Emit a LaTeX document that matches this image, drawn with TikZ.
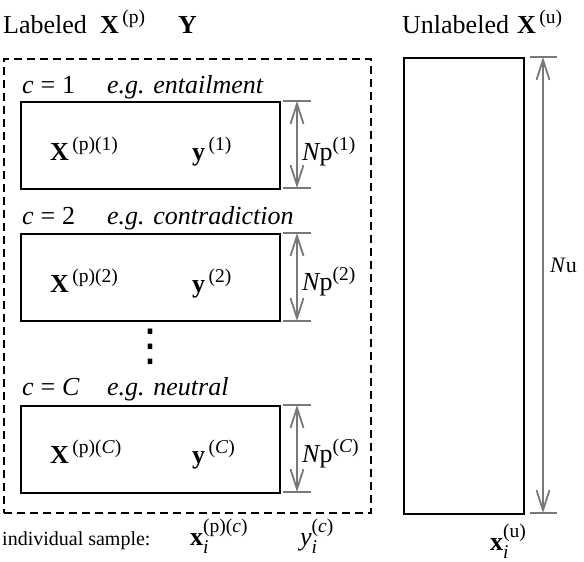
\documentclass[tikz,border=0pt]{standalone}
\usepackage{amsmath}
\usepackage{fontspec}
\setmainfont{Liberation Serif}
\newfontfamily\dvfont{DejaVu Sans}
\DeclareMathSizes{26}{26}{19.5}{14}
\DeclareMathSizes{22}{22}{16.5}{12}
\usetikzlibrary{arrows.meta}
\definecolor{dimgray}{RGB}{120,120,120}
\newcommand{\bt}[1]{\text{\bfseries #1}}
\newcommand{\itx}[1]{\text{\itshape #1}}
\newcommand{\rt}[1]{\text{\normalfont #1}}
\begin{document}
\begin{tikzpicture}[x=1pt,y=-1pt,
  box/.style={draw=black, line width=1.8pt, minimum width=259pt, minimum height=87pt, inner sep=0pt, anchor=north west},
  groupbox/.style={draw=black, line width=1.9pt, dash pattern=on 8pt off 5pt, inner sep=0pt, anchor=north west},
  ubox/.style={draw=black, line width=1.8pt, minimum width=120pt, minimum height=456pt, inner sep=0pt, anchor=north west},
  tick/.style={draw=dimgray, line width=1.8pt},
  dimarrow/.style={draw=dimgray, line width=1.8pt, {Straight Barb[length=20pt,width=13pt]}-{Straight Barb[length=20pt,width=13pt]}},
  txt/.style={inner sep=0pt, anchor=base west, font=\fontsize{26}{30}\selectfont},
  mid/.style={inner sep=0pt, anchor=base west, font=\fontsize{22}{26}\selectfont},
  small/.style={inner sep=0pt, anchor=base west, font=\fontsize{20}{24}\selectfont},
]
\useasboundingbox (0,0) rectangle (584,562);

% containers
\node[groupbox, minimum width=367pt, minimum height=454pt] (group) at (3,58) {};
\node[box] (b1) at (20,101) {};
\node[box] (b2) at (20,233) {};
\node[box] (b3) at (20,405) {};
\node[ubox] (ub) at (403,57) {};

% titles
\node[txt] (lab) at (3,33) {Labeled};
\node[txt] (labX) at (100,33) {$\bt{X}^{\,\rt{(p)}}$};
\node[txt] (labY) at (178,33) {$\bt{Y}$};
\node[txt] (unl) at (402,33) {Unlabeled};
\node[txt] (unlX) at (517,33) {$\bt{X}^{\,\rt{(u)}}$};

% class 1
\node[txt] (c1) at (22,93) {$\itx{c}\mathrel{\rt{=}}\rt{1}$};
\node[txt] (eg1) at (107,93) {\textit{e.g. entailment}};
\node[txt] (X1) at (50,160) {$\bt{X}^{\,\rt{(p)(1)}}$};
\node[txt] (y1) at (192,160) {$\bt{y}^{\,\rt{(1)}}$};
% class 2
\node[txt] (c2) at (22,224) {$\itx{c}\mathrel{\rt{=}}\rt{2}$};
\node[txt] (eg2) at (107,224) {\textit{e.g. contradiction}};
\node[txt] (X2) at (50,292) {$\bt{X}^{\,\rt{(p)(2)}}$};
\node[txt] (y2) at (192,292) {$\bt{y}^{\,\rt{(2)}}$};
% dots
\node[inner sep=0pt, font=\fontsize{44}{46}\dvfont] (vd) at (150,347) {⋮};
% class C
\node[txt] (c3) at (22,395) {$\itx{c}\mathrel{\rt{=}}\itx{C}$};
\node[txt] (eg3) at (107,395) {\textit{e.g. neutral}};
\node[txt] (X3) at (50,463) {$\bt{X}^{\,\rt{(p)(\textit{C})}}$};
\node[txt] (y3) at (192,463) {$\bt{y}^{\,\rt{(\textit{C})}}$};

% dimension lines, labeled boxes
\coordinate (t1) at (297,101); \coordinate (d1) at (297,188);
\coordinate (t2) at (297,233); \coordinate (d2) at (297,321);
\coordinate (t3) at (297,405); \coordinate (d3) at (297,492);
\foreach \p in {t1,d1,t2,d2,t3,d3}{
  \draw[tick] ([xshift=-14pt]\p) -- ([xshift=14pt]\p);
}
\draw[dimarrow] (t1) -- (d1);
\draw[dimarrow] (t2) -- (d2);
\draw[dimarrow] (t3) -- (d3);
\node[txt] (n1) at (302,160) {${\itx{N}\rt{p}}^{\rt{(1)}}$};
\node[txt] (n2) at (302,290) {${\itx{N}\rt{p}}^{\rt{(2)}}$};
\node[txt] (n3) at (302,462) {${\itx{N}\rt{p}}^{\rt{(\textit{C})}}$};

% unlabeled dimension
\coordinate (tu) at (543,57); \coordinate (du) at (543,513);
\draw[tick] ([xshift=-13pt]tu) -- ([xshift=14pt]tu);
\draw[tick] ([xshift=-13pt]du) -- ([xshift=14pt]du);
\draw[dimarrow] (tu) -- (du);
\node[mid] (nu) at (550,272) {\textit{N}u};

% individual samples
\node[small] (ind) at (2,545) {individual sample:};
\node[txt] (xi) at (190,545) {$\bt{x}_{\itx{i}}^{\rt{(p)(\textit{c})}}$};
\node[txt] (yi) at (300,545) {$\itx{y}_{\itx{i}}^{\rt{(\textit{c})}}$};
\node[txt] (xiu) at (490,550) {$\bt{x}_{\itx{i}}^{\rt{(u)}}$};
\end{tikzpicture}
\end{document}
